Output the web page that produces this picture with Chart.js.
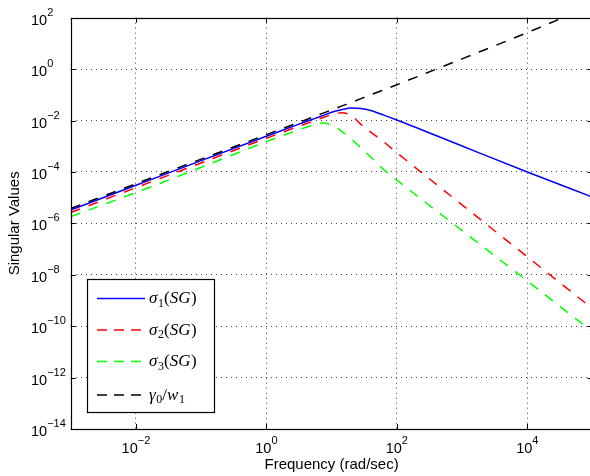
<!DOCTYPE html>
<html>
<head>
<meta charset="utf-8">
<script src="https://cdn.jsdelivr.net/npm/chart.js@4.4.1/dist/chart.umd.min.js"></script>
<style>
  html, body { margin: 0; padding: 0; background: #fff; overflow: hidden; width: 590px; height: 476px; }
  canvas { display: block; }
</style>
</head>
<body>
<canvas id="svChart" width="596" height="476"></canvas>
<script>
// frequency grid (rad/sec)
const freq = [1e-3, 1e-2, 1e-1, 1, 3.16, 5.01, 7.08, 10, 14.1, 20, 28.2, 39.8, 63.1, 100, 1e3, 1e4, 1e5];

// singular values
const sigma1 = [3.31e-6, 3.02e-5, 2.75e-4, 2.45e-3, 7.24e-3, 1.10e-2, 1.51e-2, 2.09e-2, 2.63e-2, 3.09e-2, 2.95e-2, 2.45e-2, 1.62e-2, 1.05e-2, 1.02e-3, 1.0e-4, 1.05e-5];
const sigma2 = [2.63e-6, 2.45e-5, 2.24e-4, 2.04e-3, 6.03e-3, 9.12e-3, 1.26e-2, 1.70e-2, 2.0e-2, 1.58e-2, 7.08e-3, 3.55e-3, 1.48e-3, 5.62e-4, 5.25e-6, 5.01e-8, 4.79e-10];
const sigma3 = [1.82e-6, 1.58e-5, 1.51e-4, 1.51e-3, 4.37e-3, 6.46e-3, 7.94e-3, 6.61e-3, 3.89e-3, 1.91e-3, 8.71e-4, 3.80e-4, 1.23e-4, 4.79e-5, 5.25e-7, 5.75e-9, 6.03e-11];
const gammaW = [3.80e-6, 3.47e-5, 3.16e-4, 2.82e-3, 8.51e-3, 1.32e-2, 1.86e-2, 2.57e-2, 3.63e-2, 5.01e-2, 7.08e-2, 0.1, 0.155, 0.245, 2.51, 26.3, 310];

const xTicks = [1e-2, 1, 1e2, 1e4];
const xTickExp = ["\u22122", "0", "2", "4"];
const yTicks = [1e-14, 1e-12, 1e-10, 1e-8, 1e-6, 1e-4, 1e-2, 1, 1e2];
const yTickExp = ["\u221214", "\u221212", "\u221210", "\u22128", "\u22126", "\u22124", "\u22122", "0", "2"];

// legend entries: [text, style] pieces
const legendRows = [
    [["\u03c3", "i"], ["1", "sub"], ["(", "r"], ["SG", "i"], [")", "r"]],
    [["\u03c3", "i"], ["2", "sub"], ["(", "r"], ["SG", "i"], [")", "r"]],
    [["\u03c3", "i"], ["3", "sub"], ["(", "r"], ["SG", "i"], [")", "r"]],
    [["\u03b3", "i"], ["0", "sub"], ["/", "r"], ["w", "i"], ["1", "sub"]]
];

const SANS = '"Liberation Sans", Arial, sans-serif';
const SERIF = '"Liberation Serif", "Times New Roman", serif';

const toPoints = vals => freq.map((f, i) => ({ x: f, y: vals[i] }));

function drawRich(ctx, parts, x, y) {
    parts.forEach(([t, kind]) => {
        if (kind === "sub") ctx.font = "12px " + SERIF;
        else if (kind === "i") ctx.font = "italic 17px " + SERIF;
        else ctx.font = "17px " + SERIF;
        ctx.fillText(t, x, kind === "sub" ? y + 3.5 : y);
        x += ctx.measureText(t).width + (kind === "i" ? 0.6 : 0);
    });
}

const decorations = {
    id: "decorations",
    afterDraw(chart) {
        const { ctx, chartArea: a, scales: { x, y } } = chart;
        const datasets = chart.data.datasets;
        ctx.save();

        // inward tick marks
        ctx.strokeStyle = "#000";
        ctx.lineWidth = 1;
        ctx.setLineDash([]);
        ctx.beginPath();
        xTicks.forEach(v => {
            const px = Math.round(x.getPixelForValue(v)) + 0.5;
            ctx.moveTo(px, a.bottom); ctx.lineTo(px, a.bottom - 5);
            ctx.moveTo(px, a.top); ctx.lineTo(px, a.top + 5);
        });
        yTicks.forEach(v => {
            const py = Math.round(y.getPixelForValue(v)) + 0.5;
            ctx.moveTo(a.left, py); ctx.lineTo(a.left + 5, py);
            ctx.moveTo(a.right, py); ctx.lineTo(a.right - 5, py);
        });
        ctx.stroke();

        // axes box
        ctx.lineWidth = 1.2;
        ctx.strokeRect(Math.round(a.left) + 0.5, Math.round(a.top) + 0.5,
            Math.round(a.right - a.left), Math.round(a.bottom - a.top));

        // tick labels with exponents
        ctx.fillStyle = "#000";
        ctx.textBaseline = "alphabetic";
        ctx.textAlign = "left";
        xTicks.forEach((v, i) => {
            const px = x.getPixelForValue(v);
            ctx.font = "14.5px " + SANS;
            const wb = ctx.measureText("10").width;
            ctx.font = "11px " + SANS;
            const we = ctx.measureText(xTickExp[i]).width;
            const x0 = px - (wb + we) / 2;
            ctx.font = "14.5px " + SANS;
            ctx.fillText("10", x0, 452.5);
            ctx.font = "11px " + SANS;
            ctx.fillText(xTickExp[i], x0 + wb, 443.5);
        });
        yTicks.forEach((v, i) => {
            const py = y.getPixelForValue(v);
            ctx.font = "14.5px " + SANS;
            const wb = ctx.measureText("10").width;
            ctx.fillText("10", 31, py + 7);
            ctx.font = "11px " + SANS;
            ctx.fillText(yTickExp[i], 31 + wb, py - 2);
        });

        // legend
        const bx = 87.5, by = 279.5, bw = 127, bh = 133;
        ctx.fillStyle = "#fff";
        ctx.fillRect(bx, by, bw, bh);
        ctx.strokeStyle = "#000";
        ctx.lineWidth = 1.2;
        ctx.strokeRect(bx, by, bw, bh);
        const rowY = [298.5, 330, 361.5, 395];
        legendRows.forEach((parts, i) => {
            const ds = datasets[i];
            ctx.strokeStyle = ds.borderColor;
            ctx.lineWidth = ds.borderWidth;
            ctx.setLineDash(ds.borderDash ? [10, 7] : []);
            ctx.beginPath();
            ctx.moveTo(97, rowY[i]);
            ctx.lineTo(145, rowY[i]);
            ctx.stroke();
            ctx.setLineDash([]);
            ctx.fillStyle = "#000";
            drawRich(ctx, parts, 149, rowY[i] + 4.5);
        });

        ctx.restore();
    }
};

const lineStyle = { pointRadius: 0, borderWidth: 1.5, fill: false, cubicInterpolationMode: "monotone" };
const gridColor = c => (c.tick && (c.tick.value === 1e2 || c.tick.value === 1e-14)) ? "rgba(0,0,0,0)" : "rgba(0,0,0,0.75)";

new Chart(document.getElementById("svChart").getContext("2d"), {
    type: "line",
    data: {
        datasets: [
            { ...lineStyle, label: "\u03c31(SG)", data: toPoints(sigma1), borderColor: "#0000ff", order: 4 },
            { ...lineStyle, label: "\u03c32(SG)", data: toPoints(sigma2), borderColor: "#ff0000", borderDash: [10, 9], order: 3 },
            { ...lineStyle, label: "\u03c33(SG)", data: toPoints(sigma3), borderColor: "#00ff00", borderDash: [10, 9], order: 2 },
            { ...lineStyle, label: "\u03b30/w1", data: toPoints(gammaW), borderColor: "#000000", borderDash: [10, 9], order: 1 }
        ]
    },
    options: {
        responsive: false,
        animation: false,
        devicePixelRatio: 1,
        layout: { padding: { left: 0, top: 17.7, right: 3.5, bottom: 0 } },
        plugins: { legend: { display: false }, tooltip: { enabled: false } },
        scales: {
            x: {
                type: "logarithmic",
                min: 1e-3,
                max: 1e5,
                afterBuildTicks: s => { s.ticks = xTicks.map(v => ({ value: v })); },
                afterFit: s => { s.height = 47; },
                ticks: { display: false },
                grid: { color: "rgba(0,0,0,0.75)", lineWidth: 1, drawTicks: false },
                border: { display: false, dash: [1, 4] },
                title: {
                    display: true, text: "Frequency (rad/sec)", color: "#000",
                    font: { family: SANS, size: 15 }, padding: { top: 0, bottom: 2 }
                }
            },
            y: {
                type: "logarithmic",
                min: 1e-14,
                max: 1e2,
                afterBuildTicks: s => { s.ticks = yTicks.map(v => ({ value: v })); },
                afterFit: s => { s.width = 70.7; },
                ticks: { display: false },
                grid: { color: gridColor, lineWidth: 1, drawTicks: false },
                border: { display: false, dash: [1, 4] },
                title: {
                    display: true, text: "Singular Values", color: "#000",
                    font: { family: SANS, size: 15 }, padding: { top: 6, bottom: 0 }
                }
            }
        }
    },
    plugins: [decorations]
});
</script>
</body>
</html>
